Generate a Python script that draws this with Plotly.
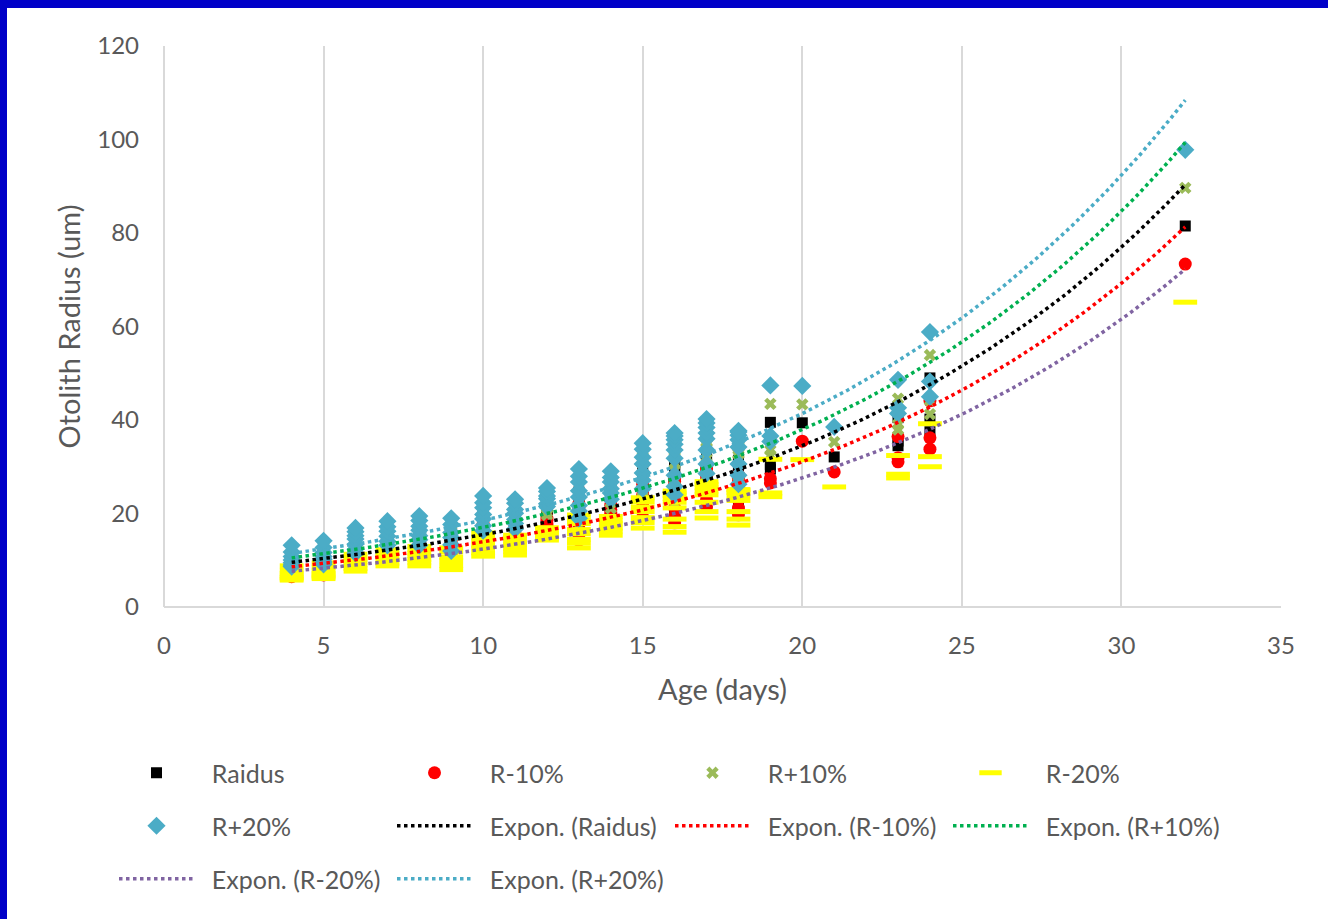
import numpy as np
import plotly.graph_objects as go

# Otolith radius (um) measured at each age (days)
radius_by_age = {
    4: [7.2, 7.5, 7.9, 8.4, 9.0, 9.8, 11.0],
    5: [7.6, 8.0, 8.5, 9.0, 9.7, 10.6, 11.8],
    6: [9.6, 10.3, 11.2, 12.1, 12.7, 13.4, 14.1],
    7: [11.0, 11.7, 12.6, 13.5, 14.3, 15.3],
    8: [11.0, 12.0, 12.7, 13.7, 14.4, 15.4, 16.2],
    9: [10.0, 11.1, 12.4, 13.3, 14.7, 15.8],
    10: [13.6, 14.5, 15.7, 16.5, 17.7, 18.6, 19.8],
    11: [13.9, 14.9, 15.6, 16.7, 17.4, 18.5, 19.2],
    12: [17.9, 18.4, 19.3, 19.8, 20.6, 21.2],
    13: [15.8, 17.1, 18.1, 19.6, 20.7, 22.3, 23.3, 24.6],
    14: [19.2, 20.3, 21.1, 22.3, 23.1, 24.2],
    15: [21.1, 22.6, 23.9, 25.5, 26.7, 28.1, 29.2],
    16: [20.0, 21.5, 23.5, 26.5, 28.0, 29.0, 29.8, 30.5, 31.0],
    17: [23.8, 25.5, 28.0, 30.0, 31.0, 32.0, 32.8, 33.5],
    18: [21.9, 23.5, 25.5, 28.5, 29.8, 30.6, 31.2, 31.4],
    19: [29.5, 30.5, 39.5],
    20: [39.4],
    21: [32.1],
    23: [34.5, 35.5, 40.5],
    24: [37.5, 40.2, 49.0],
    32: [81.5],
}

age = [a for a, vals in radius_by_age.items() for _ in vals]
radius = [v for vals in radius_by_age.values() for v in vals]

# Series are the measured radius shifted by a fixed percentage
series_names = ["Raidus", "R-10%", "R+10%", "R-20%", "R+20%"]
series_pct = [0, -10, 10, -20, 20]

marker_styles = [
    dict(symbol="square", size=11, color="#000000"),
    dict(symbol="circle", size=13, color="#FF0000"),
    dict(symbol="x", size=11, color="#9BBB59"),
    dict(symbol="line-ew", size=17, color="#FFFF00", line=dict(color="#FFFF00", width=5)),
    dict(symbol="diamond", size=14, color="#4BACC6"),
]
trend_colors = ["#000000", "#FF0000", "#00B050", "#8064A2", "#4BACC6"]

# which legend row each entry sits on
marker_legends = ["legend", "legend", "legend", "legend", "legend2"]
trend_legends = ["legend2", "legend2", "legend2", "legend3", "legend3"]

FONT = "Lato, 'Open Sans', sans-serif"
GREY = "#595959"
PAD = "\u00a0\u00a0"

fig = go.Figure()

x = np.array(age, dtype=float)
series_values = []
for name, pct in zip(series_names, series_pct):
    y = np.array(radius) * (1 + pct / 100.0)
    series_values.append(y)

for name, y, mk, lg in zip(series_names, series_values, marker_styles, marker_legends):
    fig.add_trace(go.Scatter(
        x=x, y=y, mode="markers", name=PAD + name, marker=mk, legend=lg,
        showlegend=True,
    ))

# exponential trend lines y = a*exp(b*x), least squares on ln(y)
xt = np.linspace(x.min(), x.max(), 300)
for name, y, col, lg in zip(series_names, series_values, trend_colors, trend_legends):
    b, ln_a = np.polyfit(x, np.log(y), 1)
    yt = np.exp(ln_a) * np.exp(b * xt)
    fig.add_trace(go.Scatter(
        x=xt, y=yt, mode="lines", name=PAD + f"Expon. ({name})", legend=lg,
        line=dict(color=col, width=3.5, dash="dot"),
    ))

W, H = 1328, 919
ML, MR, MT, MB = 164, 47, 46, 312
PW, PH = W - ML - MR, H - MT - MB


def px_x(p):
    return (p - ML) / PW


def px_y(p):
    return (H - MB - p) / PH


legend_common = dict(
    orientation="h", xanchor="left", yanchor="middle",
    font=dict(family=FONT, size=25, color=GREY),
    itemwidth=75, entrywidth=188, entrywidthmode="pixels",
    bgcolor="rgba(0,0,0,0)", itemclick=False, itemdoubleclick=False,
)

fig.update_layout(
    width=W, height=H,
    margin=dict(l=ML, r=MR, t=MT, b=MB, autoexpand=False),
    paper_bgcolor="#FFFFFF", plot_bgcolor="#FFFFFF",
    font=dict(family=FONT, color=GREY),
    legend=dict(legend_common, x=px_x(114), y=px_y(773)),
    legend2=dict(legend_common, x=px_x(114), y=px_y(826)),
    legend3=dict(legend_common, x=px_x(114), y=px_y(879)),
    xaxis=dict(
        range=[0, 35], dtick=5, tick0=0,
        showgrid=True, gridcolor="#D9D9D9", gridwidth=1.5,
        zeroline=True, zerolinecolor="#D9D9D9", zerolinewidth=1.5,
        showline=False, ticks="", ticklabelstandoff=22,
        tickfont=dict(family=FONT, size=24, color=GREY),
        title=dict(text="Age (days)", standoff=21,
                   font=dict(family=FONT, size=29, color=GREY)),
        automargin=False,
    ),
    yaxis=dict(
        range=[0, 120], dtick=20, tick0=0,
        showgrid=False, zeroline=True, zerolinecolor="#D9D9D9", zerolinewidth=2,
        showline=False, ticks="", ticklabelstandoff=24,
        tickfont=dict(family=FONT, size=24, color=GREY),
        title=dict(text="Otolith Radius (um)", standoff=8,
                   font=dict(family=FONT, size=29, color=GREY)),
        automargin=False,
    ),
    shapes=[
        dict(type="rect", xref="paper", yref="paper", layer="above",
             x0=px_x(-5), x1=px_x(7), y0=px_y(H + 5), y1=px_y(-5),
             fillcolor="#0000C8", line=dict(width=0)),
        dict(type="rect", xref="paper", yref="paper", layer="above",
             x0=px_x(-5), x1=px_x(W + 5), y0=px_y(8), y1=px_y(-5),
             fillcolor="#0000C8", line=dict(width=0)),
    ],
)

fig.write_html("out.html")
